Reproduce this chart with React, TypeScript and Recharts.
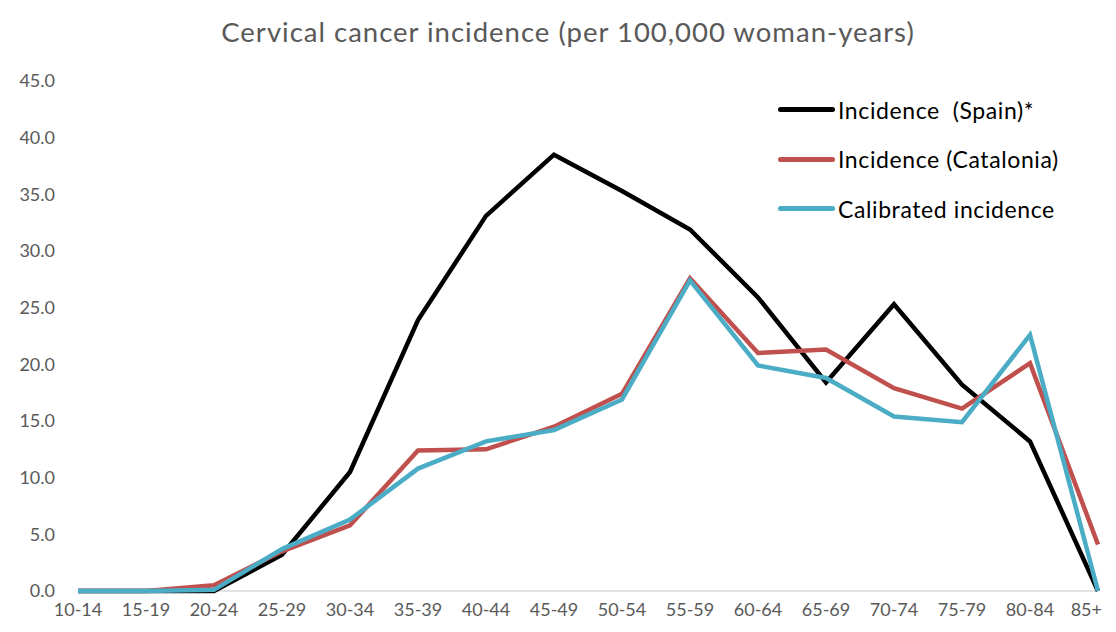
import { LineChart, Line, XAxis, YAxis, ReferenceLine } from "recharts";

const ageGroups = ["10-14", "15-19", "20-24", "25-29", "30-34", "35-39", "40-44", "45-49", "50-54", "55-59", "60-64", "65-69", "70-74", "75-79", "80-84", "85+"];
const spain = [0, 0, 0, 3.2, 10.5, 23.9, 33.1, 38.5, 35.3, 31.9, 25.9, 18.4, 25.3, 18.2, 13.2, 0];
const catalonia = [0, 0, 0.5, 3.5, 5.8, 12.4, 12.5, 14.5, 17.4, 27.6, 21.0, 21.3, 17.9, 16.1, 20.1, 4.1];
const calibrated = [0, 0, 0.1, 3.7, 6.3, 10.8, 13.2, 14.2, 16.9, 27.4, 19.9, 18.8, 15.4, 14.9, 22.6, 0];
const yTicks = [0, 5, 10, 15, 20, 25, 30, 35, 40, 45];

const series = [
  { key: "spain", name: "Incidence  (Spain)*", color: "#000000" },
  { key: "catalonia", name: "Incidence (Catalonia)", color: "#C0504D" },
  { key: "calibrated", name: "Calibrated incidence", color: "#4BACC6" },
];

const data = ageGroups.map((age, i) => ({
  age,
  spain: spain[i],
  catalonia: catalonia[i],
  calibrated: calibrated[i],
}));

const font = "Lato, 'Open Sans', sans-serif";

function LegendBox() {
  return (
    <div
      style={{
        position: "absolute",
        top: 77,
        left: 770,
        fontFamily: font,
        fontSize: 23,
        letterSpacing: 0.6,
        color: "#000",
      }}
    >
      {series.map((s) => (
        <div key={s.key} style={{ display: "flex", alignItems: "center", height: 49.5 }}>
          <div style={{ width: 57, height: 5, background: s.color, borderRadius: 3, marginRight: 3 }} />
          <span style={{ whiteSpace: "pre" }}>{s.name}</span>
        </div>
      ))}
    </div>
  );
}

// custom tick so the last label can sit inside the svg
function AgeTick(props: any) {
  const { x, y, payload, index } = props;
  const last = index === ageGroups.length - 1;
  return (
    <text
      x={last ? x + 4 : x}
      y={y}
      dy={14}
      textAnchor={last ? "end" : "middle"}
      fill="#595959"
      fontSize={18}
      fontFamily={font}
    >
      {last ? payload.value : payload.value}
    </text>
  );
}

export default function App() {
  return (
    <div style={{ position: "relative", width: 1100, height: 616, fontFamily: font }}>
      <div
        style={{
          position: "absolute",
          top: 7,
          left: 0,
          width: 1100,
          boxSizing: "border-box",
          paddingLeft: 20,
          textAlign: "center",
          fontSize: 27.5,
          letterSpacing: 1,
          color: "#595959",
          whiteSpace: "nowrap",
        }}
      >
        Cervical cancer incidence (per 100,000 woman-years)
      </div>
      <LineChart width={1100} height={616} data={data} margin={{ top: 73, right: 10, bottom: 0, left: 0 }}>
        <XAxis
          dataKey="age"
          tickLine={false}
          axisLine={false}
          height={33}
          tickMargin={5}
          interval={0}
          tick={<AgeTick />}
        />
        <YAxis
          type="number"
          domain={[0, 45]}
          ticks={yTicks}
          width={70}
          tickLine={false}
          axisLine={false}
          tickMargin={17}
          tickFormatter={(v: number) => v.toFixed(1)}
          tick={{ fill: "#595959", fontSize: 18, fontFamily: font }}
        />
        <ReferenceLine y={0} stroke="#D9D9D9" strokeWidth={1.5} />
        {series.map((s) => (
          <Line
            key={s.key}
            type="linear"
            dataKey={s.key}
            name={s.name}
            stroke={s.color}
            strokeWidth={4.5}
            dot={false}
            activeDot={false}
            isAnimationActive={false}
          />
        ))}
      </LineChart>
      <LegendBox />
    </div>
  );
}
